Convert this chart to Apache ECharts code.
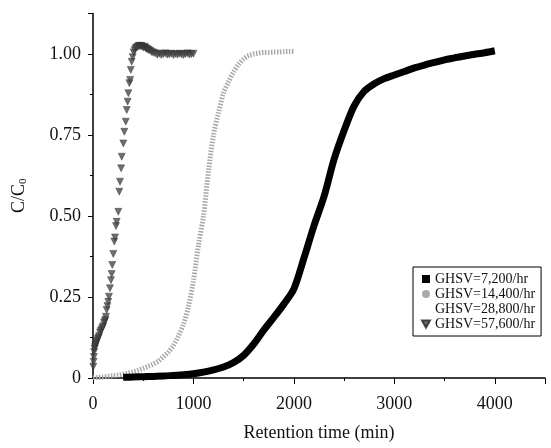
<!DOCTYPE html>
<html>
<head>
<meta charset="utf-8">
<script src="https://cdn.jsdelivr.net/npm/echarts@6/dist/echarts.min.js"></script>
<style>
html,body{margin:0;padding:0;background:#fff;}
#chart{width:551px;height:448px;}
</style>
</head>
<body>
<div id="chart"></div>
<script>
// 图例名称
var names = ['GHSV=7,200/hr', 'GHSV=14,400/hr', 'GHSV=28,800/hr', 'GHSV=57,600/hr'];

// GHSV=7,200/hr  (黑色方块)
var t7200 = [300, 400, 500, 600, 700, 800, 900, 1000, 1100, 1200, 1300, 1400, 1500, 1600, 1700, 1800, 1900,
	2000, 2100, 2200, 2300, 2400, 2500, 2600, 2700, 2800, 2900, 3000, 3100, 3200, 3300, 3400, 3500, 3600, 3700, 3800, 3900, 4000];
var c7200 = [0.002, 0.003, 0.004, 0.005, 0.006, 0.008, 0.010, 0.013, 0.018, 0.025, 0.034, 0.048, 0.070, 0.105, 0.148, 0.187, 0.228,
	0.275, 0.37, 0.47, 0.56, 0.675, 0.764, 0.84, 0.885, 0.908, 0.924, 0.935, 0.946, 0.957, 0.966, 0.974, 0.982, 0.988, 0.994, 0.999, 1.004, 1.010];

// GHSV=14,400/hr  (灰色)
var t14400 = [0, 50, 100, 150, 200, 250, 300, 350, 400, 450, 500, 550, 600, 650, 700, 750, 800, 850, 900, 950,
	1000, 1050, 1100, 1150, 1200, 1250, 1300, 1350, 1400, 1450, 1500, 1550, 1600, 1650, 1700, 1750, 1800, 1850, 1900, 1950, 2000];
var c14400 = [0.0, 0.002, 0.003, 0.005, 0.007, 0.009, 0.012, 0.015, 0.019, 0.024, 0.030, 0.036, 0.043, 0.052, 0.065, 0.08, 0.10, 0.13, 0.165, 0.22,
	0.30, 0.41, 0.50, 0.64, 0.75, 0.82, 0.88, 0.915, 0.945, 0.968, 0.985, 0.995, 1.0, 1.003, 1.005, 1.005, 1.006, 1.006, 1.007, 1.008, 1.008];

// GHSV=28,800/hr  (图中不可见)
var t28800 = [];
var c28800 = [];

// GHSV=57,600/hr  (倒三角)
var t57600 = [3, 6, 9, 12, 16, 20, 25, 30, 36, 42, 48, 55, 62, 70, 78, 86, 94, 102, 110, 118, 124, 129, 136, 144, 152, 159, 169, 179, 186, 192,
	202, 212, 219, 229, 236, 252, 262, 269, 280, 286, 302, 312, 326, 336, 345, 352, 362, 370, 376, 385, 395, 405, 415, 425, 435, 445, 455, 465, 475,
	485, 495, 505, 515, 525, 535, 545, 555, 570, 585, 600, 620, 640, 660, 680, 700, 720, 740, 760, 780, 800, 820, 840, 860, 880, 900, 920, 940, 960, 980, 1000];
var c57600 = [0.035, 0.05, 0.065, 0.08, 0.09, 0.095, 0.10, 0.105, 0.11, 0.115, 0.12, 0.125, 0.13, 0.14, 0.145, 0.15, 0.155, 0.16, 0.17, 0.175, 0.18, 0.189, 0.21, 0.222, 0.235, 0.251, 0.277, 0.302, 0.321, 0.349,
	0.383, 0.421, 0.434, 0.469, 0.482, 0.513, 0.575, 0.606, 0.647, 0.683, 0.724, 0.760, 0.791, 0.827, 0.853, 0.879, 0.910, 0.920, 0.951, 0.976, 0.990, 1.005, 1.012, 1.018, 1.020, 1.022, 1.025, 1.025, 1.024,
	1.025, 1.022, 1.020, 1.022, 1.018, 1.016, 1.014, 1.012, 1.010, 1.006, 1.004, 1.002, 0.998, 1.001, 0.997, 1.0, 1.002, 0.998, 0.999, 1.001, 0.997, 1.0, 0.998, 1.001, 0.999, 0.997, 1.0, 1.002, 0.998, 1.0, 1.001];

function pairs(t, c){
	var out = [];
	for (var i = 0; i < t.length; i++) out.push([t[i], c[i]]);
	return out;
}

var serif = '"Liberation Serif", "DejaVu Serif", serif';
var downTri = 'path://M0,0L10,0L5,9Z';

var chart = echarts.init(document.getElementById('chart'));
var option = {
	animation: false,
	grid: {left: 93, right: 6, top: 13.5, bottom: 70},
	legend: {
		orient: 'vertical',
		left: 413,
		top: 267,
		borderColor: '#000',
		borderWidth: 1,
		padding: [5, 6, 5, 8],
		itemWidth: 8,
		itemHeight: 8,
		itemGap: 1,
		textStyle: {fontFamily: serif, fontSize: 14, color: '#111', lineHeight: 14},
		data: [
			{name: names[0], icon: 'rect'},
			{name: names[1], icon: 'circle'},
			{name: names[2], icon: 'rect'},
			{name: names[3], icon: downTri}
		]
	},
	xAxis: {
		type: 'value',
		min: 0,
		max: 4500,
		interval: 1000,
		name: 'Retention time (min)',
		nameLocation: 'middle',
		nameGap: 46,
		nameTextStyle: {fontFamily: serif, fontSize: 18, color: '#111'},
		axisLine: {lineStyle: {color: '#000', width: 1.5}},
		axisTick: {length: 6, lineStyle: {color: '#000'}},
		minorTick: {show: true, splitNumber: 2, length: 3, lineStyle: {color: '#000'}},
		splitLine: {show: false},
		axisLabel: {
			margin: 17,
			fontFamily: serif, fontSize: 18, color: '#111',
			formatter: function(v){ return v % 1000 === 0 ? String(v) : ''; }
		}
	},
	yAxis: {
		type: 'value',
		min: 0,
		max: 1.125,
		interval: 0.25,
		name: 'C/C{sub|0}',
		nameLocation: 'middle',
		nameRotate: 90,
		nameGap: 64,
		nameTextStyle: {
			fontFamily: serif, fontSize: 18, color: '#111',
			rich: {sub: {fontFamily: serif, fontSize: 11, color: '#111', verticalAlign: 'bottom', padding: [8, 0, 0, 0]}}
		},
		axisLine: {show: true, lineStyle: {color: '#000', width: 1.5}},
		axisTick: {show: true, length: 5, lineStyle: {color: '#000'}},
		minorTick: {show: true, splitNumber: 2, length: 3, lineStyle: {color: '#000'}},
		splitLine: {show: false},
		axisLabel: {
			margin: 12,
			fontFamily: serif, fontSize: 18, color: '#111',
			formatter: function(v){
				if (v === 0) return '0';
				if (Math.abs(v / 0.25 - Math.round(v / 0.25)) > 1e-6) return '';
				return v.toFixed(2);
			}
		}
	},
	series: [
		{
			name: names[0],
			type: 'line',
			data: pairs(t7200, c7200),
			smooth: 0.3,
			showSymbol: false,
			symbol: 'rect',
			itemStyle: {color: '#000'},
			lineStyle: {color: '#000', width: 7},
			z: 3
		},
		{
			name: names[1],
			type: 'line',
			data: pairs(t14400, c14400),
			smooth: 0.3,
			showSymbol: false,
			symbol: 'circle',
			itemStyle: {color: '#aaa'},
			lineStyle: {color: '#a8a8a8', width: 5, type: [1.5, 1.5]},
			z: 2
		},
		{
			name: names[2],
			type: 'scatter',
			data: pairs(t28800, c28800),
			itemStyle: {color: 'rgba(0,0,0,0)'}
		},
		{
			name: names[3],
			type: 'scatter',
			data: pairs(t57600, c57600),
			symbol: 'triangle',
			symbolRotate: 180,
			symbolSize: 7,
			itemStyle: {color: '#4a4a4a', borderColor: '#222', borderWidth: 0.5},
			z: 4
		}
	]
};
chart.setOption(option);
</script>
</body>
</html>
